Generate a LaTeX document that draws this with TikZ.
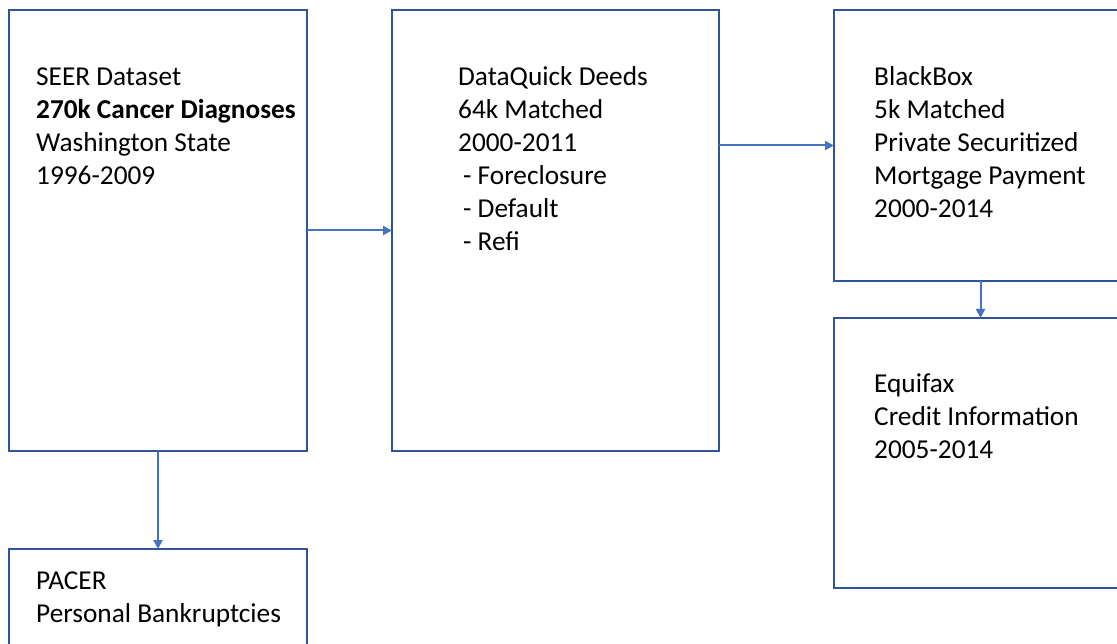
\documentclass[tikz,border=0pt]{standalone}
\usepackage{fontspec}
\setmainfont{Carlito}
\usetikzlibrary{arrows.meta}
\definecolor{boxblue}{HTML}{2F5597}
\definecolor{arrblue}{HTML}{4472C4}
\begin{document}
\begin{tikzpicture}[x=1pt,y=-1pt,
  box/.style={draw=boxblue,line width=2.4pt,anchor=north west,inner sep=0pt,outer sep=0pt},
  lbl/.style={anchor=base west,align=left,inner sep=0pt,font=\fontsize{27.3}{33}\selectfont},
  arr/.style={draw=arrblue,line width=2pt,-{Triangle[length=9pt,width=9pt]}}]
\useasboundingbox (0,0) rectangle (1117,644);
\node[box,minimum width=298pt,minimum height=441pt] (seer) at (9,10) {};
\node[box,minimum width=327pt,minimum height=441pt] (dq) at (392,10) {};
\node[box,minimum width=293pt,minimum height=271pt] (bb) at (834,10) {};
\node[box,minimum width=293pt,minimum height=270pt] (eq) at (834,318) {};
\node[box,minimum width=298pt,minimum height=120pt] (pacer) at (9,549) {};

% base anchor of a multi-line node is the baseline of its last line
\node[lbl] (seertxt) at (36,185) {SEER Dataset\\\textbf{270k Cancer Diagnoses}\\Washington State\\1996-2009};
\node[lbl] (dqtxt) at (458,251) {DataQuick Deeds\\64k Matched\\2000-2011\\\hspace*{5pt}- Foreclosure\\\hspace*{5pt}- Default\\\hspace*{5pt}- Refi};
\node[lbl] (bbtxt) at (874,218) {BlackBox\\5k Matched\\Private Securitized\\Mortgage Payment\\2000-2014};
\node[lbl] (eqtxt) at (874,458) {Equifax\\Credit Information\\2005-2014};
\node[lbl] (pacertxt) at (36,622) {PACER\\Personal Bankruptcies};

\draw[arr] (seer.east) -- (dq.west);
\draw[arr] (dq.east |- bb.west) -- (bb.west);
\draw[arr] (bb.south) -- (eq.north);
\draw[arr] (seer.south) -- (pacer.north);
\end{tikzpicture}
\end{document}
